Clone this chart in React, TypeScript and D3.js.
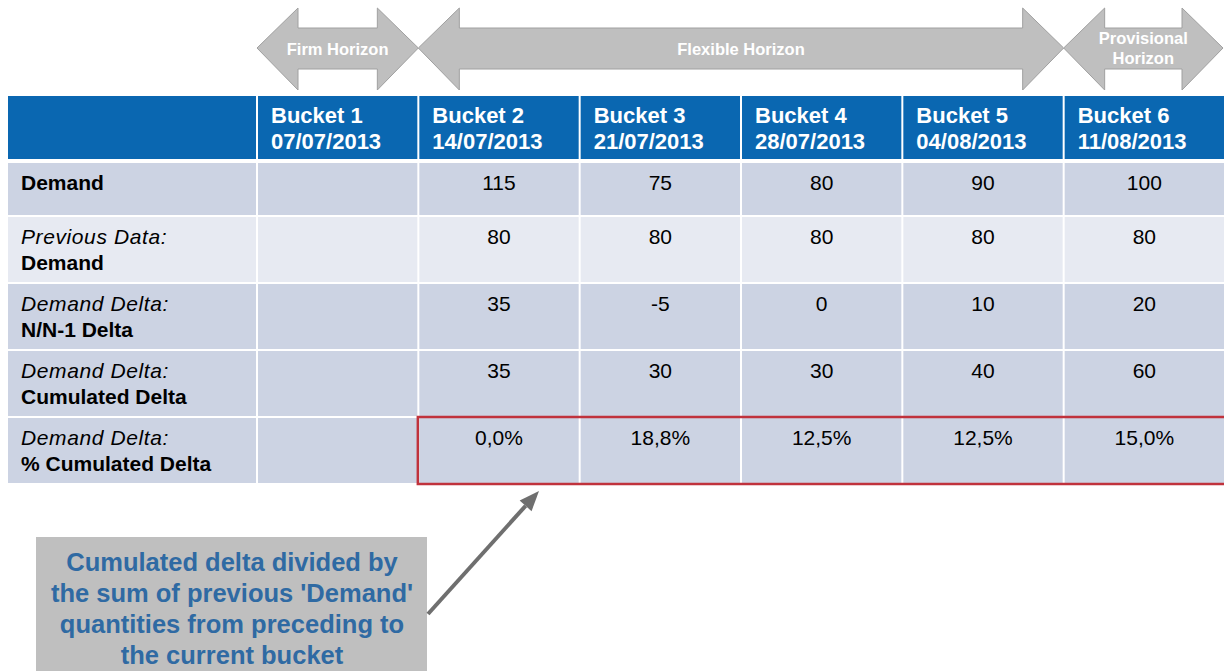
import React from "react";
import * as d3 from "d3";

// bucket headers
const buckets = ["Bucket 1", "Bucket 2", "Bucket 3", "Bucket 4", "Bucket 5", "Bucket 6"];
const dates = ["07/07/2013", "14/07/2013", "21/07/2013", "28/07/2013", "04/08/2013", "11/08/2013"];

// row values (bucket 1 is empty)
const demand = [null, 115, 75, 80, 90, 100];
const previousDemand = [null, 80, 80, 80, 80, 80];
const nDelta = [null, 35, -5, 0, 10, 20];
const cumDelta = [null, 35, 30, 30, 40, 60];
const pctCumDelta = [null, 0.0, 18.8, 12.5, 12.5, 15.0];

const rowLabels = [
  { it: "", b: "Demand" },
  { it: "Previous Data:", b: "Demand" },
  { it: "Demand Delta:", b: "N/N-1 Delta" },
  { it: "Demand Delta:", b: "Cumulated Delta" },
  { it: "Demand Delta:", b: "% Cumulated Delta" },
];

const horizons = [
  { lines: ["Firm Horizon"], from: 0, to: 0 },
  { lines: ["Flexible Horizon"], from: 1, to: 4 },
  { lines: ["Provisional", "Horizon"], from: 5, to: 5 },
];

const noteLines = [
  "Cumulated delta divided by",
  "the sum of previous 'Demand'",
  "quantities from preceding to",
  "the current bucket",
];

const fmtPct = (v: number) => v.toFixed(1).replace(".", ",") + "%";

export default function App() {
  const W = 1224, H = 671;
  const font = "'Liberation Sans', Arial, sans-serif";
  const x = d3.scaleBand<string>().domain(buckets).range([257, 1225]).paddingInner(0);
  const bw = x.bandwidth();

  // row tops/heights
  const headerTop = 96, headerH = 63;
  const rowTops = [163, 217, 284, 351, 418];
  const rowHs = [52, 65, 65, 65, 65];
  const rowFill = ["#CCD3E3", "#E7EAF2", "#CCD3E3", "#CCD3E3", "#CCD3E3"];

  const rows = [
    demand.map((v) => (v == null ? "" : String(v))),
    previousDemand.map((v) => (v == null ? "" : String(v))),
    nDelta.map((v) => (v == null ? "" : String(v))),
    cumDelta.map((v) => (v == null ? "" : String(v))),
    pctCumDelta.map((v) => (v == null ? "" : fmtPct(v))),
  ];

  // double arrow shape
  const dblArrow = (x0: number, x1: number) => {
    const head = 41, yT = 8, yB = 90, sT = 28, sB = 69, yM = 48;
    return `M${x0},${yM} L${x0 + head},${yT} L${x0 + head},${sT} L${x1 - head},${sT} L${x1 - head},${yT} L${x1},${yM} L${x1 - head},${yB} L${x1 - head},${sB} L${x0 + head},${sB} L${x0 + head},${yB} Z`;
  };

  const ax0 = 428, ay0 = 614, ax1 = 539, ay1 = 491;
  const ang = Math.atan2(ay1 - ay0, ax1 - ax0);
  const hl = 20, hw = 8;
  const bx = ax1 - hl * Math.cos(ang), by = ay1 - hl * Math.sin(ang);
  const headPts = [
    [ax1, ay1],
    [bx + hw * Math.sin(ang), by - hw * Math.cos(ang)],
    [bx - hw * Math.sin(ang), by + hw * Math.cos(ang)],
  ];

  return (
    <div style={{ position: "absolute", left: 0, top: 0 }}>
      <svg width={W} height={H} style={{ display: "block", fontFamily: font }}>
        <rect width={W} height={H} fill="#fff" />
        {/* horizon arrows */}
        {horizons.map((h, i) => {
          const x0 = x(buckets[h.from])!;
          const x1 = Math.min(x(buckets[h.to])! + bw, W - 1);
          const cx = (x0 + x1) / 2;
          return (
            <g key={i}>
              <path d={dblArrow(x0, x1)} fill="#BFBFBF" stroke="#A0A0A0" strokeWidth={1} />
              {h.lines.map((l, j) => (
                <text key={j} x={cx} y={h.lines.length > 1 ? 44 + j * 20 : 55}
                  textAnchor="middle" fill="#fff" fontWeight="bold" fontSize={16.5}>{l}</text>
              ))}
            </g>
          );
        })}

        {/* header */}
        <rect x={8} y={headerTop} width={249} height={headerH} fill="#0A67B1" />
        {buckets.map((b, i) => (
          <g key={b}>
            <rect x={x(b)!} y={headerTop} width={bw + 3} height={headerH} fill="#0A67B1" />
            <line x1={x(b)!} x2={x(b)!} y1={headerTop} y2={headerTop + headerH} stroke="#fff" strokeWidth={2} />
            <text x={x(b)! + 14} y={123} fill="#fff" fontWeight="bold" fontSize={22}>{b}</text>
            <text x={x(b)! + 14} y={149} fill="#fff" fontWeight="bold" fontSize={22}>{dates[i]}</text>
          </g>
        ))}

        {/* body rows */}
        {rows.map((vals, r) => (
          <g key={r}>
            <rect x={8} y={rowTops[r]} width={249} height={rowHs[r]} fill={rowFill[r]} />
            {rowLabels[r].it ? (
              <>
                <text x={21} y={rowTops[r] + 27} fontStyle="italic" fontSize={21} letterSpacing={0.6}>{rowLabels[r].it}</text>
                <text x={21} y={rowTops[r] + 53} fontWeight="bold" fontSize={21}>{rowLabels[r].b}</text>
              </>
            ) : (
              <text x={21} y={rowTops[r] + 27} fontWeight="bold" fontSize={21}>{rowLabels[r].b}</text>
            )}
            {buckets.map((b, i) => (
              <g key={b}>
                <rect x={x(b)!} y={rowTops[r]} width={bw + 3} height={rowHs[r]} fill={rowFill[r]} />
                <line x1={x(b)!} x2={x(b)!} y1={rowTops[r]} y2={rowTops[r] + rowHs[r]} stroke="#fff" strokeWidth={2} />
                <text x={x(b)! + bw / 2} y={rowTops[r] + 27} textAnchor="middle" fontSize={21}>{vals[i]}</text>
              </g>
            ))}
          </g>
        ))}

        {/* highlight around % cumulated delta */}
        <rect x={x(buckets[1])! - 0.5} y={rowTops[4] - 1} width={W - x(buckets[1])! + 2} height={rowHs[4] + 2}
          fill="none" stroke="#C0323C" strokeWidth={2.5} />

        {/* note box */}
        <rect x={36} y={537} width={391} height={140} fill="#BFBFBF" />
        {noteLines.map((l, i) => (
          <text key={i} x={232} y={571 + i * 31} textAnchor="middle" fill="#2F6AA3" fontWeight="bold" fontSize={25.5}>{l}</text>
        ))}

        {/* pointer arrow */}
        <line x1={ax0} y1={ay0} x2={bx} y2={by} stroke="#6F6F6F" strokeWidth={4} />
        <polygon points={headPts.map((p) => p.join(",")).join(" ")} fill="#6F6F6F" />
      </svg>
    </div>
  );
}
